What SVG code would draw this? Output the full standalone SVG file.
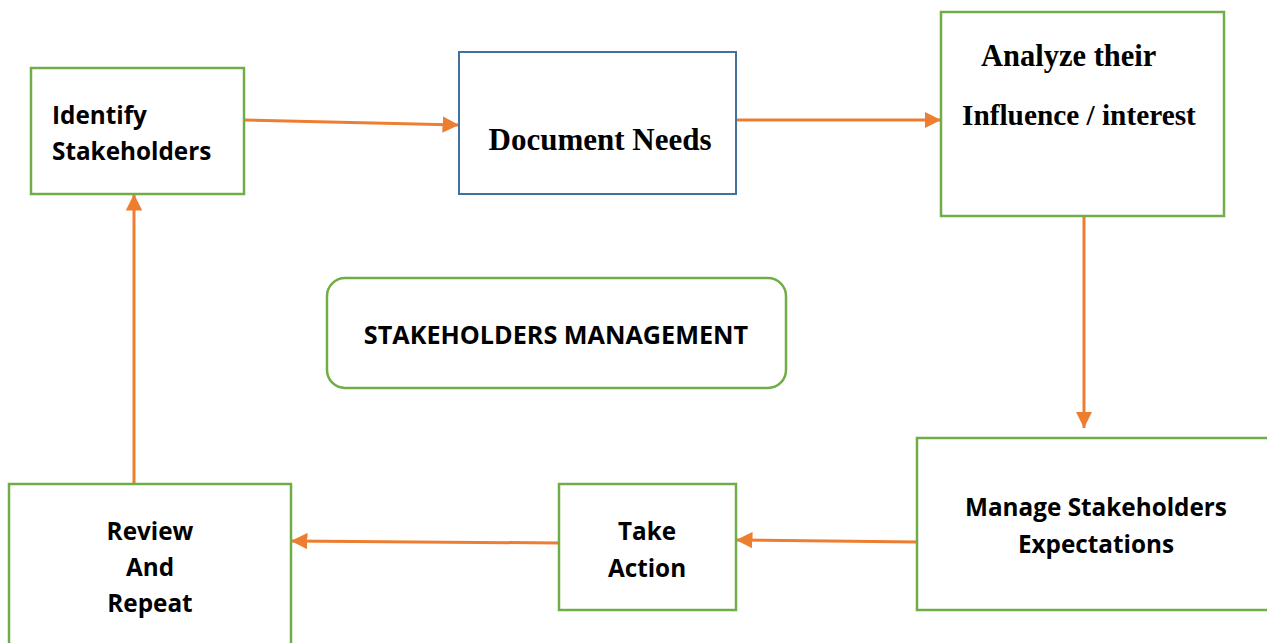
<svg xmlns="http://www.w3.org/2000/svg" width="1267" height="643" viewBox="0 0 1267 643">
<style>
.g{fill:#fff;stroke:#70AD47;stroke-width:2.5}
.b{fill:#fff;stroke:#41719C;stroke-width:2}
.s{font-family:"Open Sans","Liberation Sans",sans-serif;font-weight:bold;font-size:24.3px;fill:#000}
.s.big{font-size:25.2px}
.t{font-family:"Liberation Serif","Times New Roman",serif;font-weight:bold;fill:#000}
.c{text-anchor:middle}
.a{stroke:#ED7D31;stroke-width:3;fill:none;marker-end:url(#ah)}
</style>
<defs>
<marker id="ah" viewBox="0 0 10 10" refX="10" refY="5" markerWidth="5.5" markerHeight="5.5" markerUnits="strokeWidth" orient="auto">
<path d="M0,0 L10,5 L0,10 z" fill="#ED7D31"/>
</marker>
</defs>
<rect width="1267" height="643" fill="#fff"/>
<g id="connectors">
<path class="a" d="M244,120 L459,125"/>
<path class="a" d="M736,120 L941,120"/>
<path class="a" d="M1084,216 L1084,428"/>
<path class="a" d="M917,542 L736,540"/>
<path class="a" d="M559,543 L291,541"/>
<path class="a" d="M134,484 L134,194"/>
</g>
<g id="identify">
<rect class="g" x="31" y="68" width="213" height="126"/>
<text class="s" x="52" y="124">Identify</text>
<text class="s" x="52" y="160">Stakeholders</text>
</g>
<g id="document">
<rect class="b" x="459" y="52" width="277" height="142"/>
<text class="t" x="600" y="150" font-size="31" text-anchor="middle">Document Needs</text>
</g>
<g id="analyze">
<rect class="g" x="941" y="12" width="283" height="204"/>
<text class="t" x="981" y="66" font-size="30.5">Analyze their</text>
<text class="t" x="962" y="125" font-size="29.3">Influence / interest</text>
</g>
<g id="center">
<rect class="g" x="327" y="278" width="459" height="110" rx="18"/>
<text class="s big c" x="556" y="344">STAKEHOLDERS MANAGEMENT</text>
</g>
<g id="manage">
<rect class="g" x="917" y="438" width="360" height="172"/>
<text class="s c" x="1096" y="516">Manage Stakeholders</text>
<text class="s c" x="1096" y="553">Expectations</text>
</g>
<g id="take">
<rect class="g" x="559" y="484" width="177" height="126"/>
<text class="s c" x="647" y="540">Take</text>
<text class="s c" x="647" y="577">Action</text>
</g>
<g id="review">
<rect class="g" x="9" y="484" width="282" height="170"/>
<text class="s c" x="150" y="540">Review</text>
<text class="s c" x="150" y="576">And</text>
<text class="s c" x="150" y="612">Repeat</text>
</g>
</svg>
